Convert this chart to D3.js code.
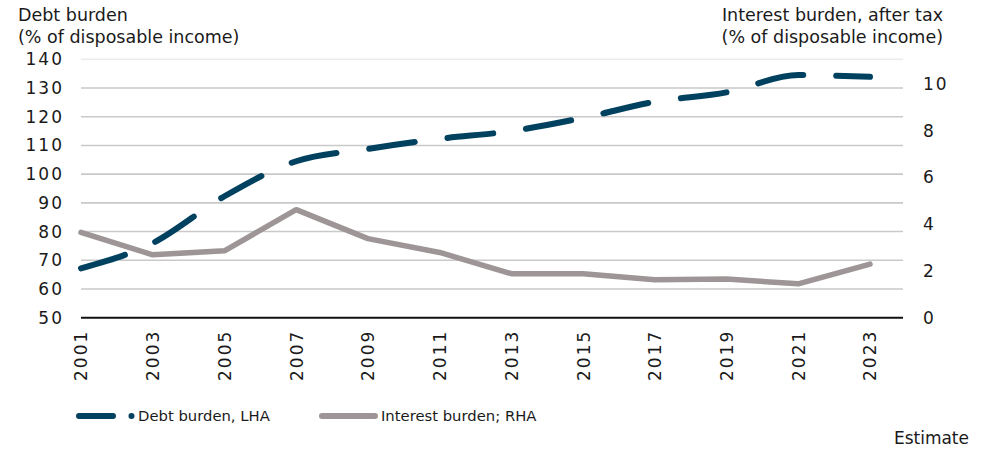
<!DOCTYPE html>
<html>
<head>
<meta charset="utf-8">
<script src="https://cdn.jsdelivr.net/npm/d3@7"></script>
<style>
  html, body { margin: 0; padding: 0; background: #fff; }
  svg { display: block; }
  text { font-family: "DejaVu Sans", sans-serif; fill: #1a1a1a; }
</style>
</head>
<body>
<svg id="chart" width="997" height="450"></svg>
<script>
// ---- data ----
const years = [2001, 2003, 2005, 2007, 2009, 2011, 2013, 2015, 2017, 2019, 2021, 2023];
const debtBurden = [67.2, 76.0, 92.3, 104.5, 108.8, 112.3, 115.0, 119.6, 125.2, 128.5, 134.5, 133.9];
const interestBurden = [3.65, 2.69, 2.86, 4.62, 3.38, 2.79, 1.88, 1.88, 1.62, 1.65, 1.45, 2.29];
const leftTicks = [50, 60, 70, 80, 90, 100, 110, 120, 130, 140];
const rightTicks = [0, 2, 4, 6, 8, 10];
const xTickYears = years;
const leftTitle = ["Debt burden", "(% of disposable income)"];
const rightTitle = ["Interest burden, after tax", "(% of disposable income)"];
const seriesNames = ["Debt burden, LHA", "Interest burden; RHA"];
const note = "Estimate";

// ---- layout ----
const svg = d3.select("#chart");
const plot = { left: 81, right: 903, top: 59.3, bottom: 317.7 };
const colDebt = "#00415f";
const colInt = "#9e9597";
const fontNum = 17;

const x = d3.scaleLinear().domain([2001, 2023]).range([plot.left, 870]);
const yL = d3.scaleLinear().domain([50, 140]).range([plot.bottom, plot.top]);
const yR = d3.scaleLinear().domain([0, 11.05]).range([plot.bottom, plot.top]);

// gridlines
svg.append("g").selectAll("line").data(leftTicks.filter(d => d > 50)).join("line")
  .attr("x1", plot.left).attr("x2", plot.right)
  .attr("y1", d => yL(d)).attr("y2", d => yL(d))
  .attr("stroke", d => d === 140 ? "#ebebeb" : "#c9c9c9")
  .attr("stroke-width", 1.6);

// base axis
svg.append("line")
  .attr("x1", plot.left).attr("x2", plot.right)
  .attr("y1", plot.bottom).attr("y2", plot.bottom)
  .attr("stroke", "#111").attr("stroke-width", 2);

function styleTicks(g) {
  g.select(".domain").remove();
  g.selectAll("text")
    .attr("font-size", fontNum)
    .style("font-family", "'DejaVu Sans'")
    .style("letter-spacing", "2px")
    .attr("fill", "#1a1a1a");
}

// left axis labels
const axL = d3.axisLeft(yL).tickValues(leftTicks).tickSize(0).tickPadding(17);
const gL = svg.append("g").attr("transform", `translate(${plot.left},0)`).call(axL);
styleTicks(gL);

// right axis labels
const axR = d3.axisRight(yR).tickValues(rightTicks).tickSize(0).tickPadding(20);
const gR = svg.append("g").attr("transform", `translate(${plot.right},0)`).call(axR);
styleTicks(gR);

// x labels rotated
const axX = d3.axisBottom(x).tickValues(xTickYears).tickFormat(d3.format("d")).tickSize(0).tickPadding(0);
const gX = svg.append("g").attr("transform", `translate(0,${plot.bottom})`).call(axX);
styleTicks(gX);
gX.selectAll("text")
  .attr("text-anchor", "end")
  .attr("x", -12).attr("y", 0).attr("dy", "0.35em")
  .attr("transform", "rotate(-90)");

// lines
const lineDebt = d3.line().x((d, i) => x(years[i])).y(d => yL(d)).curve(d3.curveMonotoneX);
const lineInt = d3.line().x((d, i) => x(years[i])).y(d => yR(d));

svg.append("path").datum(interestBurden)
  .attr("d", lineInt).attr("fill", "none")
  .attr("stroke", colInt).attr("stroke-width", 5.5)
  .attr("stroke-linejoin", "round").attr("stroke-linecap", "round");

svg.append("path").datum(debtBurden)
  .attr("d", lineDebt).attr("fill", "none")
  .attr("stroke", colDebt).attr("stroke-width", 6)
  .attr("stroke-dasharray", "46,33")
  .attr("stroke-linejoin", "round").attr("stroke-linecap", "round");

// titles
const tL = svg.append("text").attr("x", 18).attr("y", 21).attr("font-size", 17.5);
leftTitle.forEach((s, i) => tL.append("tspan").attr("x", 18).attr("dy", i ? 22 : 0).text(s));
const tR = svg.append("text").attr("x", 943).attr("y", 21).attr("font-size", 17.5).attr("text-anchor", "end");
rightTitle.forEach((s, i) => tR.append("tspan").attr("x", 943).attr("dy", i ? 22 : 0).text(s));

// legend
const ly = 416;
svg.append("line").attr("x1", 79).attr("x2", 113).attr("y1", ly).attr("y2", ly)
  .attr("stroke", colDebt).attr("stroke-width", 6).attr("stroke-linecap", "round");
svg.append("circle").attr("cx", 131.5).attr("cy", ly).attr("r", 3).attr("fill", colDebt);
svg.append("text").attr("x", 138).attr("y", ly).attr("dy", "0.35em").attr("font-size", 14.8).text(seriesNames[0]);
svg.append("line").attr("x1", 322).attr("x2", 375).attr("y1", ly).attr("y2", ly)
  .attr("stroke", colInt).attr("stroke-width", 6).attr("stroke-linecap", "round");
svg.append("text").attr("x", 381).attr("y", ly).attr("dy", "0.35em").attr("font-size", 14.8).text(seriesNames[1]);

// note
svg.append("text").attr("x", 969).attr("y", 444).attr("text-anchor", "end").attr("font-size", 17).text(note);
</script>
</body>
</html>
